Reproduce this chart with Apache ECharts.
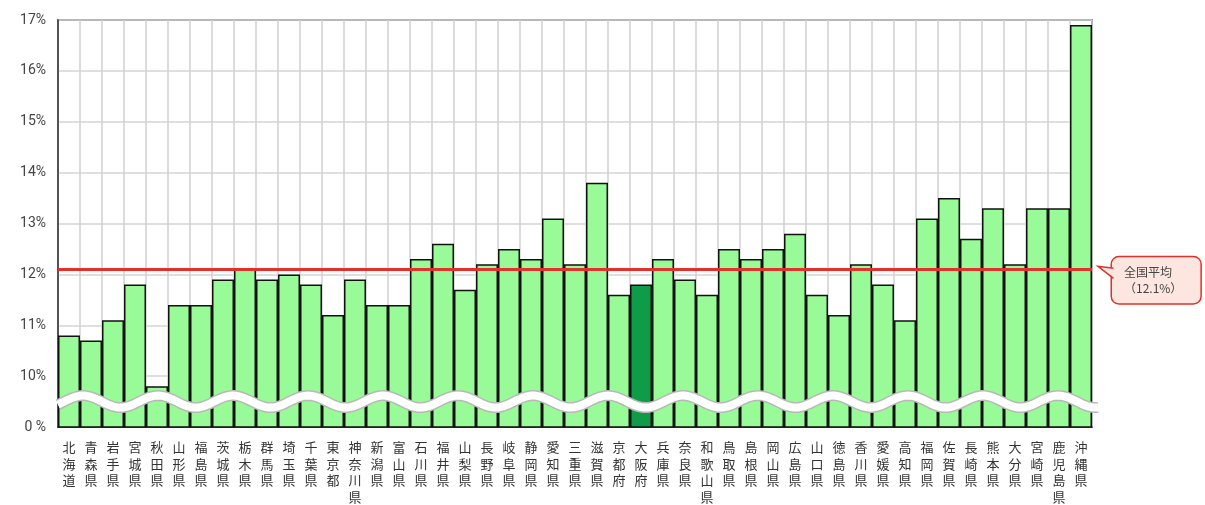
<!DOCTYPE html>
<html>
<head>
<meta charset="utf-8">
<script src="https://cdn.jsdelivr.net/npm/echarts@6/dist/echarts.min.js"></script>
<style>
  html, body { margin: 0; padding: 0; background: #fff; }
  #chart { width: 1205px; height: 505px; }
</style>
</head>
<body>
<div id="chart"></div>
<script>
// 都道府県
const categories = ['北海道','青森県','岩手県','宮城県','秋田県','山形県','福島県','茨城県','栃木県','群馬県',
  '埼玉県','千葉県','東京都','神奈川県','新潟県','富山県','石川県','福井県','山梨県','長野県',
  '岐阜県','静岡県','愛知県','三重県','滋賀県','京都府','大阪府','兵庫県','奈良県','和歌山県',
  '鳥取県','島根県','岡山県','広島県','山口県','徳島県','香川県','愛媛県','高知県','福岡県',
  '佐賀県','長崎県','熊本県','大分県','宮崎県','鹿児島県','沖縄県']
// 割合（%）
const values = [10.8,10.7,11.1,11.8,9.8,11.4,11.4,11.9,12.1,11.9,
  12.0,11.8,11.2,11.9,11.4,11.4,12.3,12.6,11.7,12.2,
  12.5,12.3,13.1,12.2,13.8,11.6,11.8,12.3,11.9,11.6,
  12.5,12.3,12.5,12.8,11.6,11.2,12.2,11.8,11.1,13.1,
  13.5,12.7,13.3,12.2,13.3,13.3,16.9]
const highlight = '大阪府'
const average = 12.1
// 軸（0%の上は省略して10%から）
const yMin = 9, yMax = 17, yStep = 1
const zeroLabelAt = 9

const chart = echarts.init(document.getElementById('chart'))

const option = {
  animation: false,
  grid: {
    left: 58, right: 113, top: 20, bottom: 78,
    show: true, borderColor: '#333', borderWidth: 1.5
  },
  xAxis: {
    type: 'category',
    data: categories,
    axisTick: { show: false },
    axisLine: { lineStyle: { color: '#333', width: 1.5 } },
    splitLine: { show: true, interval: 0, lineStyle: { color: '#d0d0d0', width: 1.5 } },
    axisLabel: {
      interval: 0,
      margin: 12,
      color: '#333',
      fontSize: 13,
      lineHeight: 16.5,
      fontFamily: 'Noto Sans CJK JP',
      formatter: v => v.split('').join('\n')
    }
  },
  yAxis: {
    type: 'value',
    min: yMin, max: yMax, interval: yStep,
    axisLine: { show: true, lineStyle: { color: '#333', width: 1.5 } },
    axisTick: { show: false },
    splitLine: { lineStyle: { color: '#d4d4d4', width: 1.5 } },
    axisLabel: {
      color: '#444',
      fontSize: 14,
      fontFamily: 'Liberation Sans Narrow, Roboto, sans-serif',
      margin: 12,
      formatter: v => v === zeroLabelAt ? '0 %' : v + '%'
    }
  },
  series: [{
    type: 'bar',
    barCategoryGap: 0,
    data: values.map((v, i) => ({
      value: v,
      itemStyle: categories[i] === highlight ? { color: '#0e9c48' } : undefined
    })),
    itemStyle: { color: '#98fb98', borderColor: '#111', borderWidth: 1.5 },
    markLine: {
      silent: true,
      symbol: ['none', 'none'],
      lineStyle: { color: '#e4302a', width: 3, type: 'solid' },
      data: [{ yAxis: average }],
      label: {
        position: 'end',
        distance: 20,
        offset: [0, 11],
        formatter: '全国平均\n（' + average + '%）',
        color: '#444',
        fontSize: 12,
        lineHeight: 16,
        fontFamily: 'Noto Sans CJK JP',
        backgroundColor: '#fde6df',
        borderColor: '#e0302a',
        borderWidth: 1.5,
        borderRadius: 7,
        padding: [7, 18, 7, 12]
      }
    }
  }]
}
chart.setOption(option)

// 省略の波線と吹き出しの三角
function drawExtras() {
  const bx0 = chart.convertToPixel({ xAxisIndex: 0 }, 0)
  const bx1 = chart.convertToPixel({ xAxisIndex: 0 }, 1)
  const band = bx1 - bx0
  const left = bx0 - band / 2
  const right = chart.convertToPixel({ xAxisIndex: 0 }, categories.length - 1) + band / 2
  const cy = chart.convertToPixel({ yAxisIndex: 0 }, 9.5)
  const amp = 6, period = 75, phase = 25
  const pts = []
  for (let x = left; x <= right + 6; x += 2) {
    pts.push([x, cy - amp * Math.cos(2 * Math.PI * (x - left - phase) / period)])
  }
  const ly = chart.convertToPixel({ yAxisIndex: 0 }, average)
  const tipX = right + 6, boxX = right + 21
  chart.setOption({
    graphic: [
      { type: 'polyline', z: 100, shape: { points: pts }, style: { stroke: '#b8b8b8', lineWidth: 11, fill: null } },
      { type: 'polyline', z: 101, shape: { points: pts }, style: { stroke: '#fff', lineWidth: 8, fill: null } },
      { type: 'polygon', z: 102, shape: { points: [[tipX, ly - 3], [boxX + 2, ly - 1], [boxX + 2, ly + 9]] },
        style: { fill: '#fde6df' } },
      { type: 'polyline', z: 103, shape: { points: [[boxX + 0.5, ly - 1], [tipX, ly - 3], [boxX + 0.5, ly + 9]] },
        style: { stroke: '#e0302a', lineWidth: 1.5, fill: null } }
    ]
  })
}
drawExtras()
</script>
</body>
</html>
